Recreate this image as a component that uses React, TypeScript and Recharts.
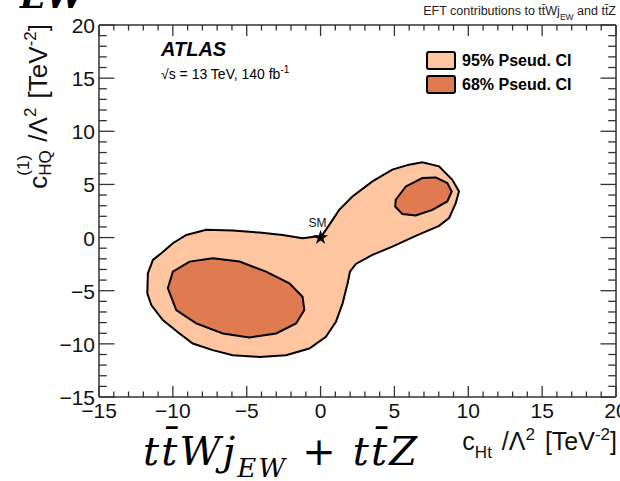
import React from 'react';
import { ScatterChart, Scatter, XAxis, YAxis, Symbols } from 'recharts';

// axis ticks (majors every 5, minors every 1)
const majorTicks = [-15, -10, -5, 0, 5, 10, 15, 20];
const allTicks = Array.from({ length: 36 }, (_, i) => i - 15);

// 95% pseudo-CI contour
const contour95 = [
  { x: 0, y: 0 }, { x: 0.59, y: 1.2 }, { x: 1.26, y: 2.61 }, { x: 2.16, y: 3.87 },
  { x: 3.51, y: 5.28 }, { x: 4.86, y: 6.39 }, { x: 5.99, y: 6.86 }, { x: 6.89, y: 7.08 },
  { x: 8.02, y: 6.7 }, { x: 8.92, y: 5.44 }, { x: 9.37, y: 4.34 }, { x: 9.15, y: 3.24 },
  { x: 8.7, y: 1.83 }, { x: 8.02, y: 1.1 }, { x: 6.44, y: 0.16 }, { x: 4.86, y: -0.85 },
  { x: 3.51, y: -1.63 }, { x: 2.39, y: -2.48 }, { x: 1.99, y: -3.21 }, { x: 1.83, y: -4.3 },
  { x: 1.49, y: -6.19 }, { x: 1.04, y: -7.92 }, { x: 0.36, y: -9.34 }, { x: -0.76, y: -10.44 },
  { x: -2.34, y: -11.07 }, { x: -4.14, y: -11.23 }, { x: -5.95, y: -11.07 }, { x: -7.3, y: -10.59 },
  { x: -8.65, y: -9.97 }, { x: -9.55, y: -9.02 }, { x: -10.68, y: -7.76 }, { x: -11.46, y: -6.35 },
  { x: -11.73, y: -5.25 }, { x: -11.69, y: -3.36 }, { x: -11.35, y: -2.1 }, { x: -10.78, y: -1.47 },
  { x: -10.0, y: -0.53 }, { x: -9.09, y: 0.25 }, { x: -7.74, y: 0.73 }, { x: -5.95, y: 0.66 },
  { x: -4.14, y: 0.47 }, { x: -2.57, y: 0.25 }, { x: -1.22, y: -0.06 }, { x: -0.31, y: 0.1 },
];

// 68% pseudo-CI, left island
const contour68Left = [
  { x: -7.3, y: -1.94 }, { x: -5.49, y: -2.26 }, { x: -3.69, y: -3.21 }, { x: -2.11, y: -4.3 },
  { x: -1.22, y: -5.57 }, { x: -1.1, y: -6.82 }, { x: -1.66, y: -8.08 }, { x: -3.01, y: -9.02 },
  { x: -4.82, y: -9.4 }, { x: -6.62, y: -9.02 }, { x: -8.42, y: -8.08 }, { x: -9.77, y: -6.82 },
  { x: -10.34, y: -4.77 }, { x: -10.0, y: -3.21 }, { x: -8.87, y: -2.26 },
];

// 68% pseudo-CI, right island
const contour68Right = [
  { x: 5.09, y: 3.56 }, { x: 5.77, y: 4.81 }, { x: 6.89, y: 5.6 }, { x: 7.8, y: 5.66 },
  { x: 8.58, y: 5.13 }, { x: 8.88, y: 4.34 }, { x: 8.58, y: 3.4 }, { x: 7.57, y: 2.61 },
  { x: 6.44, y: 2.08 }, { x: 5.54, y: 2.21 }, { x: 5.05, y: 2.92 },
];

const smPoint = [{ x: 0, y: 0 }];

const LIGHT = '#fdc6a0';
const DARK = '#e07a50';
const FRAME = '#333';
const SANS = '"Liberation Sans", Arial, sans-serif';

const fmt = (v: number) => (v < 0 ? `\u2212${-v}` : `${v}`);

function makeTick(side: 'bottom' | 'top' | 'left' | 'right') {
  return function Tick(props: any) {
    const { x, y, payload } = props;
    const v = payload.value;
    const major = majorTicks.includes(v);
    const horiz = side === 'bottom' || side === 'top';
    const len = horiz ? (major ? 11 : 5.5) : major ? 15.5 : 7.8;
    let x2 = x, y2 = y;
    if (side === 'bottom') y2 = y - len;
    if (side === 'top') y2 = y + len;
    if (side === 'left') x2 = x + len;
    if (side === 'right') x2 = x - len;
    return (
      <g>
        <line x1={x} y1={y} x2={x2} y2={y2} stroke={FRAME} strokeWidth={1.3} />
        {major && side === 'bottom' && (
          <text x={x} y={y + 21} textAnchor="middle" fontSize={21} fontFamily={SANS} fill="#111">
            {fmt(v)}
          </text>
        )}
        {major && side === 'left' && (
          <text x={x - 4} y={y + 8} textAnchor="end" fontSize={21} fontFamily={SANS} fill="#111">
            {fmt(v)}
          </text>
        )}
      </g>
    );
  };
}

const noPoint = () => <g />;

const SMMarker = (props: any) => {
  const { cx, cy } = props;
  return (
    <g>
      <Symbols cx={cx} cy={cy} type="star" size={70} fill="#000" />
      <text x={cx - 3} y={cy - 11} textAnchor="middle" fontSize={12} fontFamily={SANS} fill="#111">
        SM
      </text>
    </g>
  );
};

export default function App() {
  return (
    <div style={{ position: 'absolute', left: 0, top: 0, width: 620, height: 481, background: '#fff', overflow: 'hidden' }}>
      <ScatterChart width={620} height={481} margin={{ top: 24, right: 3, bottom: 83, left: 98 }}>
        <XAxis xAxisId="b" type="number" dataKey="x" domain={[-15, 20]} allowDataOverflow ticks={allTicks}
          interval={0} height={1} tickSize={0} tickMargin={0} tick={makeTick('bottom')}
          axisLine={{ stroke: FRAME, strokeWidth: 1.5 }} orientation="bottom" />
        <XAxis xAxisId="t" type="number" dataKey="x" domain={[-15, 20]} allowDataOverflow ticks={allTicks}
          interval={0} height={1} tickSize={0} tickMargin={0} tick={makeTick('top')}
          axisLine={{ stroke: FRAME, strokeWidth: 1.5 }} orientation="top" />
        <YAxis yAxisId="l" type="number" dataKey="y" domain={[-15, 20]} allowDataOverflow ticks={allTicks}
          interval={0} width={1} tickSize={0} tickMargin={0} tick={makeTick('left')}
          axisLine={{ stroke: FRAME, strokeWidth: 1.5 }} orientation="left" />
        <YAxis yAxisId="r" type="number" dataKey="y" domain={[-15, 20]} allowDataOverflow ticks={allTicks}
          interval={0} width={1} tickSize={0} tickMargin={0} tick={makeTick('right')}
          axisLine={{ stroke: FRAME, strokeWidth: 1.5 }} orientation="right" />

        <Scatter xAxisId="b" yAxisId="l" data={contour95} fill={LIGHT} shape={noPoint}
          line={{ stroke: '#000', strokeWidth: 2, fill: LIGHT }} lineType="joint" lineJointType="linearClosed"
          isAnimationActive={false} />
        <Scatter xAxisId="b" yAxisId="l" data={contour68Left} fill={DARK} shape={noPoint}
          line={{ stroke: '#000', strokeWidth: 2, fill: DARK }} lineType="joint" lineJointType="linearClosed"
          isAnimationActive={false} />
        <Scatter xAxisId="b" yAxisId="l" data={contour68Right} fill={DARK} shape={noPoint}
          line={{ stroke: '#000', strokeWidth: 2, fill: DARK }} lineType="joint" lineJointType="linearClosed"
          isAnimationActive={false} />
        <Scatter xAxisId="b" yAxisId="l" data={smPoint} fill="#000" shape={SMMarker} isAnimationActive={false} />
      </ScatterChart>

      {/* annotations */}
      <svg width={620} height={481} style={{ position: 'absolute', left: 0, top: 0, pointerEvents: 'none' }}>
        {/* cropped slide title */}
        <text x={20} y={8} fontSize={34} fontStyle="italic" fontWeight="bold" fontFamily='"DejaVu Serif", serif' fill="#000">EW</text>

        <text x={616} y={15} textAnchor="end" fontSize={12.5} fontFamily={SANS} fill="#222">
          EFT contributions to t{'t\u0304'}Wj<tspan fontSize={8.5} dy={5}>EW</tspan>
          <tspan dy={-5}> and t{'t\u0304'}Z</tspan>
        </text>

        <text x={161} y={56} fontSize={20} fontWeight="bold" fontStyle="italic" fontFamily={SANS} fill="#000">ATLAS</text>
        <text x={161} y={79} fontSize={14} fontFamily={SANS} fill="#000">
          {'\u221As = 13 TeV, 140 fb'}<tspan fontSize={10} dy={-6}>-1</tspan>
        </text>

        {/* legend */}
        <rect x={427} y={52} width={28} height={17} rx={2} fill={LIGHT} stroke="#000" strokeWidth={2} />
        <text x={462} y={66} fontSize={16} fontWeight="bold" fontFamily={SANS} fill="#000">95% Pseud. CI</text>
        <rect x={427} y={76} width={28} height={17} rx={2} fill={DARK} stroke="#000" strokeWidth={2} />
        <text x={462} y={90} fontSize={16} fontWeight="bold" fontFamily={SANS} fill="#000">68% Pseud. CI</text>

        {/* x-axis title */}
        <text x={617} y={450} textAnchor="end" fontSize={25} fontFamily={SANS} fill="#111">
          c<tspan fontSize={17} dy={8}>Ht</tspan><tspan dx={3} dy={-8}> /{'\u039B'}</tspan>
          <tspan fontSize={17} dy={-10}>2</tspan><tspan dx={3} dy={10}> [TeV</tspan>
          <tspan fontSize={17} dy={-10}>{'-2'}</tspan><tspan dy={10}>]</tspan>
        </text>

        {/* y-axis title */}
        <text transform="rotate(-90)" x={-24} y={47} textAnchor="end" fontSize={26} fontFamily={SANS} fill="#111">
          c<tspan fontSize={17} dy={4}>HQ</tspan>
          <tspan fontSize={17} dx={-25.5} dy={-22}>(1)</tspan>
          <tspan dx={6} dy={18}> /{'\u039B'}</tspan>
          <tspan fontSize={17} dy={-11}>2</tspan><tspan dx={2} dy={11}> [TeV</tspan>
          <tspan fontSize={17} dy={-11}>{'-2'}</tspan><tspan dy={11}>]</tspan>
        </text>

        {/* process label */}
        <text x={143} y={465} textLength={274} lengthAdjust="spacing" fontSize={40} fontStyle="italic"
          fontFamily='"DejaVu Serif", serif' fill="#000">
          t{'t\u0304'}Wj<tspan fontSize={26} dy={12}>EW</tspan><tspan dy={-12}> + t{'t\u0304'}Z</tspan>
        </text>
      </svg>
    </div>
  );
}
